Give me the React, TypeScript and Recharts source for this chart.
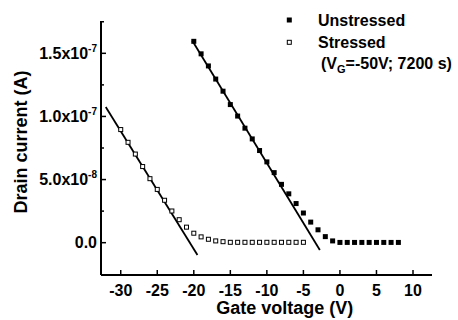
import {
  ComposedChart,
  Scatter,
  Line,
  XAxis,
  YAxis,
} from "recharts";

// gate voltage (V) and drain current (A)
const unstressedV = [
  -20, -19, -18, -17, -16, -15, -14, -13, -12, -11, -10, -9, -8, -7, -6, -5,
  -4, -3, -2, -1, 0, 1, 2, 3, 4, 5, 6, 7, 8,
];
const unstressedI = [
  1.595e-7, 1.496e-7, 1.4e-7, 1.296e-7, 1.2e-7, 1.094e-7, 1.003e-7, 9.07e-8,
  8.22e-8, 7.3e-8, 6.4e-8, 5.55e-8, 4.62e-8, 3.87e-8, 3.1e-8, 2.35e-8,
  1.63e-8, 1.02e-8, 4.8e-9, 1.4e-9, 2e-10, 2e-10, 2e-10, 2e-10, 2e-10, 2e-10,
  2e-10, 2e-10, 2e-10,
];

const stressedV = [
  -30, -29, -28, -27, -26, -25, -24, -23, -22, -21, -20, -19, -18, -17, -16,
  -15, -14, -13, -12, -11, -10, -9, -8, -7, -6, -5,
];
const stressedI = [
  8.96e-8, 7.95e-8, 7.02e-8, 6.03e-8, 5.07e-8, 4.22e-8, 3.36e-8, 2.51e-8,
  1.82e-8, 1.23e-8, 7.5e-9, 4.6e-9, 2.7e-9, 1.4e-9, 8e-10, 3e-10, 3e-10,
  3e-10, 3e-10, 3e-10, 3e-10, 3e-10, 3e-10, 3e-10, 3e-10, 3e-10,
];

// linear fits (end points)
const unstressedFitV = [-20.2, -2.75];
const unstressedFitI = [1.6e-7, -5.8e-9];
const stressedFitV = [-32.05, -19.5];
const stressedFitI = [1.075e-7, -9.8e-9];

const xTicks = [-30, -25, -20, -15, -10, -5, 0, 5, 10];
const yTicks = [0, 2.5e-8, 5e-8, 7.5e-8, 1e-7, 1.25e-7, 1.5e-7, 1.75e-7];
const yMajor = [0, 5e-8, 1e-7, 1.5e-7];
const yMantissa = ["0.0", "5.0x10", "1.0x10", "1.5x10"];
const yExponent = ["", "-8", "-7", "-7"];

const toPoints = (vs: number[], is: number[]) =>
  vs.map((v, k) => ({ v, i: is[k] }));

const unstressed = toPoints(unstressedV, unstressedI);
const stressed = toPoints(stressedV, stressedI);
const unstressedFit = toPoints(unstressedFitV, unstressedFitI);
const stressedFit = toPoints(stressedFitV, stressedFitI);

const FONT = "'Liberation Sans', Arial, sans-serif";

function YTick(props: any) {
  const { x, y, payload } = props;
  const k = yMajor.indexOf(payload.value);
  const major = k >= 0;
  return (
    <g>
      <line
        x1={x}
        x2={x + (major ? 5 : 3)}
        y1={y}
        y2={y}
        stroke="#000"
        strokeWidth={1.5}
      />
      {major && (
        <text
          x={x - 4}
          y={y + 5.5}
          textAnchor="end"
          fontFamily={FONT}
          fontWeight="bold"
          fontSize={16}
          fill="#000"
        >
          {yMantissa[k]}
          {yExponent[k] && (
            <tspan dy={-7} fontSize={10}>
              {yExponent[k]}
            </tspan>
          )}
        </text>
      )}
    </g>
  );
}

function XTick(props: any) {
  const { x, y, payload } = props;
  return (
    <g>
      <line x1={x} x2={x} y1={y} y2={y - 5} stroke="#000" strokeWidth={1.5} />
      <text
        x={x}
        y={y + 21}
        textAnchor="middle"
        fontFamily={FONT}
        fontWeight="bold"
        fontSize={16}
        fill="#000"
      >
        {payload.value}
      </text>
    </g>
  );
}

const filledSquare = (p: any) => (
  <rect x={p.cx - 2.5} y={p.cy - 2.5} width={5} height={5} fill="#000" />
);
const openSquare = (p: any) => (
  <rect
    x={p.cx - 2}
    y={p.cy - 2}
    width={4}
    height={4}
    fill="#fff"
    stroke="#000"
    strokeWidth={1}
  />
);

export default function App() {
  return (
    <div
      style={{
        position: "absolute",
        left: 0,
        top: 0,
        width: 458,
        height: 320,
        background: "#fff",
      }}
    >
      <ComposedChart
        width={458}
        height={320}
        margin={{ top: 21, right: 26, bottom: 0, left: 0 }}
      >
        <XAxis
          type="number"
          dataKey="v"
          domain={[-32.7, 12.6]}
          ticks={xTicks}
          allowDataOverflow
          height={45}
          tickSize={0}
          tickMargin={0}
          tickLine={false}
          tick={<XTick />}
          axisLine={{ stroke: "#000", strokeWidth: 2 }}
          interval={0}
        />
        <YAxis
          type="number"
          dataKey="i"
          domain={[-2.56e-8, 1.756e-7]}
          ticks={yTicks}
          allowDataOverflow
          width={101}
          tickSize={0}
          tickMargin={0}
          tickLine={false}
          tick={<YTick />}
          axisLine={{ stroke: "#000", strokeWidth: 2 }}
          interval={0}
        />
        <Line
          data={unstressedFit}
          dataKey="i"
          type="linear"
          stroke="#000"
          strokeWidth={1.8}
          dot={false}
          isAnimationActive={false}
        />
        <Line
          data={stressedFit}
          dataKey="i"
          type="linear"
          stroke="#000"
          strokeWidth={1.8}
          dot={false}
          isAnimationActive={false}
        />
        <Scatter
          data={unstressed}
          shape={filledSquare}
          isAnimationActive={false}
        />
        <Scatter
          data={stressed}
          shape={openSquare}
          isAnimationActive={false}
        />
      </ComposedChart>
      <svg
        width={458}
        height={320}
        style={{ position: "absolute", left: 0, top: 0, pointerEvents: "none" }}
        fontFamily={FONT}
        fontWeight="bold"
        fill="#000"
      >
        <rect x={286.8} y={17.5} width={5} height={5} fill="#000" />
        <text x={318} y={26} fontSize={16}>
          Unstressed
        </text>
        <rect
          x={287.3}
          y={40.3}
          width={4}
          height={4}
          fill="#fff"
          stroke="#000"
          strokeWidth={1}
        />
        <text x={318} y={48} fontSize={16}>
          Stressed
        </text>
        <text x={321} y={69} fontSize={16}>
          (V
          <tspan dy={4} fontSize={11}>
            G
          </tspan>
          <tspan dy={-4}>=-50V; 7200 s)</tspan>
        </text>
        <text x={284.7} y={314} fontSize={18} textAnchor="middle">
          Gate voltage (V)
        </text>
        <text
          x={0}
          y={0}
          fontSize={18}
          textAnchor="middle"
          transform="translate(27 142) rotate(-90)"
        >
          Drain current (A)
        </text>
      </svg>
    </div>
  );
}
